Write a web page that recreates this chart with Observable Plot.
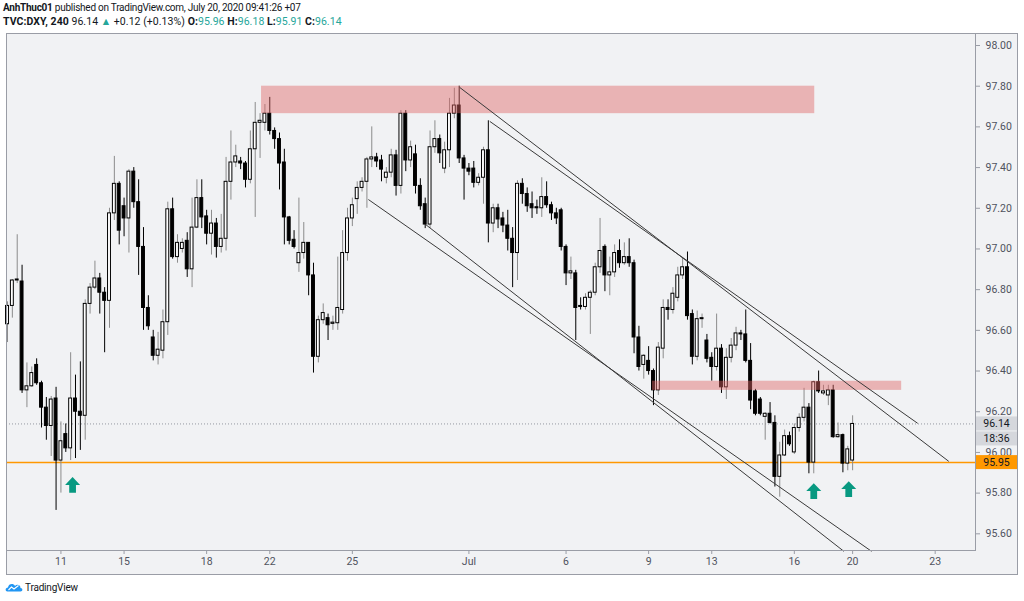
<!DOCTYPE html>
<html><head><meta charset="utf-8">
<script src="https://cdn.jsdelivr.net/npm/d3@7"></script>
<script src="https://cdn.jsdelivr.net/npm/@observablehq/plot@0.6"></script>
<style>
body{margin:0;background:#fff;width:1024px;height:601px;position:relative;overflow:hidden;font-family:Roboto,"Open Sans",sans-serif;}
#hdr{position:absolute;left:3px;top:1px;font-size:10px;letter-spacing:-0.25px;line-height:14px;color:#131722;white-space:nowrap}
#hdr .l2{font-size:10.5px;letter-spacing:0.05px}
#hdr b{font-weight:700}
.up{color:#26a69a}
#box{position:absolute;left:6px;top:33px;width:1012px;height:542px;border:1px solid #9a9da6;box-sizing:border-box;background:#f1f2f4}
#chart{position:absolute;left:0;top:33px}
#logo{position:absolute;left:5px;top:581px;font-size:10px;letter-spacing:-0.2px;color:#131722;display:flex;align-items:center;gap:2px}
</style></head><body>
<div id="hdr">
<div><b>AnhThuc01</b> published on TradingView.com, July 20, 2020 09:41:26 +07</div>
<div class="l2"><b>TVC:DXY, 240</b> 96.14 <span class="up">▲</span> +0.12 (+0.13%) <b>O:</b><span class="up">95.96</span> <b>H:</b><span class="up">96.18</span> <b>L:</b><span class="up">95.91</span> <b>C:</b><span class="up">96.14</span></div>
</div>
<div id="box"></div>
<div id="chart"></div>
<div id="logo"><svg width="18" height="12" viewBox="0 0 36 24"><path d="M5 21C0 21 0 13 6 13C7 5 17 4 20 10C23 6 31 7 31 14C36 14 36 21 31 21Z" fill="#2196f3"/><path d="M7 18L13 12L18 16L27 9" fill="none" stroke="#fff" stroke-width="2.2"/></svg><span>TradingView</span></div>
<script>
// ---- candle data (4H bars, index 0..174) ----
const open = [96.63,96.72,96.845,96.84,96.305,96.325,96.43,96.34,96.22,96.13,96.265,95.96,96.09,96.02,96.265,96.20,96.18,96.73,96.81,96.855,96.785,96.745,97.175,97.32,97.21,97.15,97.38,97.23,97.01,96.71,96.565,96.475,96.50,96.64,97.195,96.96,97.00,97.04,96.90,97.105,
97.25,97.16,97.075,97.125,97.01,97.05,97.33,97.425,97.43,97.42,97.34,97.49,97.62,97.62,97.665,97.58,97.54,97.425,97.155,97.045,96.93,96.98,97.03,96.87,96.47,96.65,96.66,96.632,96.635,96.70,
96.98,97.15,97.245,97.30,97.33,97.44,97.45,97.435,97.35,97.375,97.46,97.31,97.665,97.435,97.465,97.31,97.22,97.12,97.50,97.54,97.395,97.485,97.665,97.705,97.445,97.395,97.395,97.325,97.35,97.485,
97.125,97.20,97.15,97.115,97.05,96.98,97.32,97.27,97.22,97.205,97.20,97.255,97.215,97.175,97.19,97.01,96.88,96.88,96.72,96.715,96.76,96.785,96.91,97.01,96.87,96.885,96.99,96.93,96.96,96.93,
96.565,96.43,96.45,96.40,96.305,96.51,96.71,96.70,96.76,96.87,96.91,96.68,96.47,96.655,96.55,96.465,96.42,96.51,96.32,96.465,96.525,96.585,96.58,96.45,96.30,96.26,96.175,96.19,96.145,95.88,
95.985,96.08,96.00,96.12,96.17,96.22,95.95,96.345,96.29,96.28,96.305,96.075,96.085,95.945,95.96];
const high = [96.74,96.85,97.07,96.92,96.44,96.42,96.46,96.35,96.27,96.275,96.32,96.15,96.14,96.49,96.38,96.445,96.75,96.83,96.94,96.88,96.81,97.20,97.455,97.33,97.25,97.39,97.40,97.34,97.105,96.77,96.60,96.59,96.70,97.23,97.25,97.07,97.05,97.08,97.25,97.34,
97.34,97.19,97.19,97.15,97.17,97.45,97.58,97.51,97.45,97.43,97.58,97.72,97.665,97.71,97.745,97.595,97.57,97.49,97.16,97.09,97.25,97.13,97.03,96.93,96.67,96.73,96.68,96.67,96.96,97.09,
97.20,97.25,97.33,97.35,97.45,97.60,97.47,97.46,97.40,97.49,97.485,97.68,97.68,97.53,97.51,97.345,97.25,97.58,97.63,97.56,97.525,97.74,97.79,97.80,97.46,97.42,97.43,97.37,97.50,97.63,
97.22,97.22,97.18,97.19,97.105,97.335,97.345,97.30,97.28,97.24,97.35,97.33,97.23,97.20,97.20,97.02,96.96,96.895,96.76,96.78,96.795,96.93,97.15,97.02,96.96,97.02,97.045,97.03,97.05,96.945,
96.62,96.48,96.52,96.41,96.54,96.75,96.75,96.81,96.91,96.955,96.985,96.70,96.695,96.68,96.58,96.49,96.68,96.53,96.51,96.56,96.615,96.60,96.70,96.535,96.31,96.27,96.195,96.245,96.18,96.05,
96.11,96.10,96.14,96.19,96.315,96.24,96.35,96.40,96.33,96.33,96.33,96.145,96.09,96.03,96.18];
const low = [96.54,96.66,96.83,96.29,96.22,96.32,96.33,96.12,96.06,95.98,95.715,95.80,96.00,95.96,95.97,96.01,96.06,96.68,96.80,96.68,96.49,96.61,97.14,97.02,97.06,96.98,97.20,96.87,96.60,96.60,96.45,96.43,96.46,96.575,96.95,96.93,96.98,96.86,96.81,97.10,
97.10,97.02,96.97,96.955,96.98,96.99,97.24,97.40,97.39,97.30,97.32,97.155,97.445,97.58,97.56,97.49,97.29,97.02,97.02,97.00,96.885,96.95,96.77,96.39,96.44,96.63,96.55,96.60,96.60,96.68,
96.94,97.11,97.17,97.28,97.20,97.40,97.40,97.33,97.32,97.35,97.26,97.27,97.38,97.40,97.27,97.19,97.10,97.10,97.47,97.42,97.37,97.40,97.64,97.42,97.24,97.36,97.30,97.31,97.22,97.03,
97.08,97.10,97.08,96.99,96.81,96.845,97.22,97.18,97.15,97.17,97.155,97.20,97.14,97.12,96.99,96.82,96.85,96.55,96.70,96.70,96.58,96.77,96.88,96.79,96.77,96.86,96.905,96.92,96.91,96.485,
96.40,96.36,96.38,96.23,96.28,96.46,96.65,96.68,96.74,96.85,96.65,96.43,96.45,96.61,96.44,96.35,96.40,96.29,96.26,96.44,96.50,96.55,96.44,96.21,96.18,96.18,96.06,96.14,95.83,95.78,
95.98,96.03,95.99,96.10,96.15,95.895,95.895,96.29,96.28,96.23,96.07,96.07,95.90,95.91,95.91];
const close = [96.72,96.845,96.85,96.305,96.325,96.39,96.34,96.22,96.13,96.26,95.96,96.055,96.02,96.265,96.20,96.18,96.73,96.81,96.855,96.785,96.745,97.175,97.32,97.09,97.15,97.38,97.23,97.01,96.71,96.62,96.475,96.505,96.64,97.195,96.96,97.03,97.03,96.90,97.105,97.25,
97.155,97.075,97.125,97.01,97.05,97.33,97.425,97.455,97.42,97.34,97.49,97.62,97.63,97.665,97.58,97.54,97.42,97.155,97.04,97.01,96.98,97.03,96.87,96.47,96.65,96.685,96.625,96.638,96.71,96.98,
97.15,97.215,97.30,97.33,97.44,97.45,97.43,97.39,97.375,97.46,97.31,97.665,97.435,97.50,97.31,97.21,97.12,97.50,97.54,97.47,97.485,97.665,97.705,97.445,97.395,97.38,97.325,97.35,97.485,97.125,
97.20,97.145,97.115,97.05,96.98,97.32,97.27,97.21,97.20,97.20,97.255,97.215,97.175,97.15,97.01,96.88,96.89,96.71,96.715,96.76,96.785,96.91,96.99,96.87,96.885,96.98,96.93,96.96,96.93,96.565,
96.42,96.475,96.40,96.305,96.515,96.71,96.70,96.78,96.87,96.91,96.67,96.47,96.655,96.66,96.46,96.42,96.51,96.32,96.465,96.525,96.585,96.58,96.45,96.255,96.19,96.19,96.19,96.145,95.88,95.985,
96.08,96.04,96.12,96.17,96.22,95.95,96.345,96.30,96.30,96.305,96.075,96.085,95.945,96.015,96.14];

// ---- axes ----
const yTicks = [95.6,95.8,96.0,96.2,96.4,96.6,96.8,97.0,97.2,97.4,97.6,97.8,98.0];
const xTickIdx = [11,24,41,54,71,95,115,132,145,162,174,191];
const xTickLabels = ["11","15","18","22","25","Jul","6","9","13","16","20","23"];

// ---- annotations ----
const zoneStart = [52.3,132.8], zoneEnd = [166.2,184.1];
const zoneTop = [97.80,96.35], zoneBottom = [97.665,96.305];
const chanStartIdx = [93.1,99.3,74.3,86.1], chanStartPrice = [97.794,97.627,97.243,97.12];
const chanEndIdx = [193.8,187.4,177.9,172.2], chanEndPrice = [95.956,96.143,95.514,95.514];
const arrowIdx = [13.4,166,173.2], arrowPrice = [95.84,95.81,95.82];
const supportLevel = 95.95, lastPrice = 96.14;

const idx = d3.range(open.length);
const up = idx.filter(i => close[i] >= open[i]);
const down = idx.filter(i => close[i] < open[i]);

const arrowSym = {draw(ctx, size){
  const r = Math.sqrt(size/Math.PI);
  ctx.moveTo(0,-1.05*r); ctx.lineTo(r,0); ctx.lineTo(0.45*r,0); ctx.lineTo(0.45*r,1.05*r);
  ctx.lineTo(-0.45*r,1.05*r); ctx.lineTo(-0.45*r,0); ctx.lineTo(-r,0); ctx.closePath();
}};

const axisFill = "#50535e", lineCol = "#9a9da6";
const chart = Plot.plot({
  width: 1024, height: 542,
  marginTop: 0, marginBottom: 25, marginLeft: 6, marginRight: 49,
  style: {background: "transparent", fontFamily: "Roboto, 'Open Sans', sans-serif"},
  x: {type: "linear", domain: [-0.206, 199.3]},
  y: {domain: [95.518, 98.059]},
  marks: [
    Plot.ruleY([lastPrice], {stroke: "#9598a1", strokeDasharray: "1,2"}),
    Plot.ruleY([supportLevel], {stroke: "#ff9800", strokeWidth: 1.5}),
    Plot.ruleX(up, {x: i => i, y1: i => low[i], y2: i => high[i], stroke: "#8c8c8c"}),
    Plot.ruleX(down, {x: i => i, y1: i => low[i], y2: i => high[i], stroke: "#000"}),
    Plot.rect(up, {x1: i => i - 0.3, x2: i => i + 0.3, y1: i => open[i], y2: i => close[i], fill: "#fff", stroke: "#000"}),
    Plot.rect(down, {x1: i => i - 0.3, x2: i => i + 0.3, y1: i => open[i], y2: i => close[i], fill: "#000", stroke: "#000"}),
    Plot.rect([0,1], {x1: j => zoneStart[j], x2: j => zoneEnd[j], y1: j => zoneBottom[j], y2: j => zoneTop[j], fill: "#e06666", fillOpacity: 0.45}),
    Plot.link([0,1,2,3], {x1: j => chanStartIdx[j], y1: j => chanStartPrice[j], x2: j => chanEndIdx[j], y2: j => chanEndPrice[j], stroke: "#3a3a3a", strokeWidth: 1}),
    Plot.dot([0,1,2], {x: j => arrowIdx[j], y: j => arrowPrice[j], r: 7.5, symbol: arrowSym, fill: "#089981", stroke: null}),
    Plot.frame({stroke: lineCol}),
    Plot.axisY(yTicks, {anchor: "right", tickSize: 4, tickPadding: 6, tickFormat: d => d.toFixed(2), fontSize: 10.5, fill: axisFill, stroke: lineCol, label: null}),
    Plot.axisX(xTickIdx, {anchor: "bottom", tickSize: 4, tickPadding: 3, tickFormat: i => xTickLabels[xTickIdx.indexOf(i)], fontSize: 10.5, fill: axisFill, stroke: lineCol, label: null})
  ]
});
document.getElementById("chart").appendChild(chart);

// price tags on the axis, placed with the chart's own y scale
const ys = chart.scale("y");
const svg = d3.select(chart);
function tag(v, txt, bg, fg, off){
  const yy = ys.apply(v) + off;
  svg.append("rect").attr("x", 976).attr("y", yy - 7).attr("width", 41).attr("height", 14).attr("fill", bg);
  svg.append("text").attr("x", 996.5).attr("y", yy).attr("dy", "0.35em").attr("text-anchor", "middle")
     .attr("font-size", 10.5).attr("fill", fg).text(txt);
}
tag(lastPrice, lastPrice.toFixed(2), "#d5d7dc", "#131722", 0);
tag(lastPrice, "18:36", "#d5d7dc", "#131722", 15);
tag(supportLevel, supportLevel.toFixed(2), "#ff9800", "#131722", 0);
</script>
</body></html>
